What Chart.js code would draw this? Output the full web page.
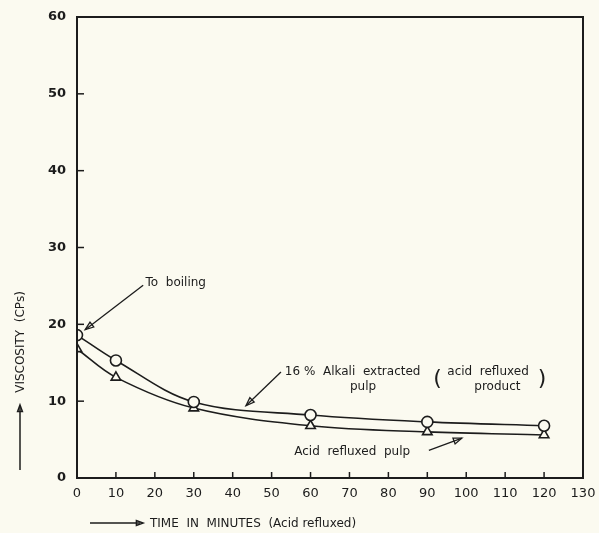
<!DOCTYPE html>
<html>
<head>
<meta charset="utf-8">
<script src="https://cdn.jsdelivr.net/npm/chart.js@4.4.1/dist/chart.umd.min.js"></script>
<style>
  html, body { margin: 0; padding: 0; background: #fbfaf0; }
  #wrap { width: 599px; height: 533px; }
</style>
</head>
<body>
<div id="wrap"><canvas id="viscChart" width="599" height="533"></canvas></div>
<script>
// time (minutes, acid refluxed)
var minutes = [0, 10, 30, 60, 90, 120];
// 16% alkali extracted pulp (acid refluxed product) - circles
var alkaliPulp = [18.6, 15.3, 9.9, 8.2, 7.3, 6.8];
// acid refluxed pulp - triangles
var acidPulp = [16.8, 13.1, 9.1, 6.8, 6.0, 5.6];

var xTicks = [0, 10, 20, 30, 40, 50, 60, 70, 80, 90, 100, 110, 120, 130];
var yTicks = [0, 10, 20, 30, 40, 50, 60];

var ink = '#1c1c1c';

// text notes placed in data units
var notes = [
  { text: 'To  boiling', x: 17.6, y: 25.4, align: 'left' },
  { text: '16 %  Alkali  extracted', x: 53.4, y: 13.8, align: 'left' },
  { text: 'pulp', x: 73.5, y: 11.8, align: 'center' },
  { text: 'acid  refluxed', x: 105.6, y: 13.8, align: 'center' },
  { text: 'product', x: 108, y: 11.8, align: 'center' },
  { text: 'Acid  refluxed  pulp', x: 70.7, y: 3.4, align: 'center' }
];
// arrows [fromX, fromY, toX, toY] in data units
var arrows = [
  [17.0, 25.1, 2.1, 19.3],
  [52.4, 13.8, 43.4, 9.4],
  [90.4, 3.6, 98.9, 5.2]
];

function toXY(points) {
  return points.map(function (v, k) { return { x: minutes[k], y: v }; });
}

function arrowHead(ctx, x1, y1, x2, y2, size) {
  var a = Math.atan2(y2 - y1, x2 - x1);
  ctx.beginPath();
  ctx.moveTo(x2, y2);
  ctx.lineTo(x2 - size * Math.cos(a - 0.35), y2 - size * Math.sin(a - 0.35));
  ctx.lineTo(x2 - size * Math.cos(a + 0.35), y2 - size * Math.sin(a + 0.35));
  ctx.closePath();
  ctx.stroke();
}

var decorPlugin = {
  id: 'decor',
  afterDraw: function (chart) {
    var ctx = chart.ctx;
    var area = chart.chartArea;
    var xs = chart.scales.x, ys = chart.scales.y;
    ctx.save();
    ctx.strokeStyle = ink;
    ctx.fillStyle = ink;
    ctx.lineWidth = 2;
    // frame
    ctx.strokeRect(area.left, area.top, area.right - area.left, area.bottom - area.top);
    // inner tick marks
    ctx.lineWidth = 1.5;
    yTicks.forEach(function (v) {
      if (v === 0 || v === 60) return;
      var py = ys.getPixelForValue(v);
      ctx.beginPath(); ctx.moveTo(area.left, py); ctx.lineTo(area.left + 7, py); ctx.stroke();
    });
    xTicks.forEach(function (v) {
      if (v === 0 || v === 130) return;
      var px = xs.getPixelForValue(v);
      ctx.beginPath(); ctx.moveTo(px, area.bottom); ctx.lineTo(px, area.bottom - 6); ctx.stroke();
    });

    // notes
    ctx.font = '12px "DejaVu Sans", sans-serif';
    ctx.textBaseline = 'middle';
    notes.forEach(function (n) {
      ctx.textAlign = n.align;
      ctx.fillText(n.text, xs.getPixelForValue(n.x), ys.getPixelForValue(n.y));
    });
    // big parentheses around "acid refluxed product"
    ctx.font = '22px "DejaVu Sans", sans-serif';
    ctx.textAlign = 'center';
    ctx.fillText('(', xs.getPixelForValue(92.6), ys.getPixelForValue(12.9));
    ctx.fillText(')', xs.getPixelForValue(119.5), ys.getPixelForValue(12.9));

    // arrows
    ctx.lineWidth = 1.3;
    arrows.forEach(function (a) {
      var x1 = xs.getPixelForValue(a[0]), y1 = ys.getPixelForValue(a[1]);
      var x2 = xs.getPixelForValue(a[2]), y2 = ys.getPixelForValue(a[3]);
      ctx.beginPath(); ctx.moveTo(x1, y1); ctx.lineTo(x2, y2); ctx.stroke();
      arrowHead(ctx, x1, y1, x2, y2, 9);
    });

    // axis titles with arrows
    ctx.font = '12px "DejaVu Sans", sans-serif';
    ctx.lineWidth = 1.5;
    // y title
    ctx.save();
    ctx.translate(21, 342);
    ctx.rotate(-Math.PI / 2);
    ctx.textAlign = 'center';
    ctx.fillText('VISCOSITY  (CPs)', 0, 0);
    ctx.restore();
    ctx.beginPath(); ctx.moveTo(20, 470); ctx.lineTo(20, 407); ctx.stroke();
    arrowHead(ctx, 20, 470, 20, 405, 7);
    // x title
    ctx.beginPath(); ctx.moveTo(90, 523); ctx.lineTo(140, 523); ctx.stroke();
    arrowHead(ctx, 90, 523, 143, 523, 7);
    ctx.textAlign = 'left';
    ctx.fillText('TIME  IN  MINUTES  (Acid refluxed)', 150, 524);
    ctx.restore();
  }
};

var chart = new Chart(document.getElementById('viscChart'), {
  type: 'line',
  data: {
    datasets: [{
      label: '16% Alkali extracted pulp',
      data: toXY(alkaliPulp),
      borderColor: ink,
      borderWidth: 1.6,
      pointStyle: 'circle',
      pointRadius: 5.5,
      pointBackgroundColor: '#fbfaf0',
      pointBorderColor: ink,
      pointBorderWidth: 1.6,
      tension: 0.35,
      fill: false
    }, {
      label: 'Acid refluxed pulp',
      data: toXY(acidPulp),
      borderColor: ink,
      borderWidth: 1.6,
      pointStyle: 'triangle',
      pointRadius: 5.5,
      pointBackgroundColor: '#fbfaf0',
      pointBorderColor: ink,
      pointBorderWidth: 1.6,
      tension: 0.35,
      fill: false
    }]
  },
  options: {
    responsive: false,
    animation: false,
    devicePixelRatio: 1,
    layout: { padding: { left: 0, right: 16, top: 17, bottom: 0 } },
    plugins: {
      legend: { display: false },
      tooltip: { enabled: false }
    },
    scales: {
      x: {
        type: 'linear',
        min: 0, max: 130,
        afterFit: function (s) { s.height = 55; },
        afterBuildTicks: function (s) { s.ticks = xTicks.map(function (v) { return { value: v }; }); },
        grid: { display: false },
        border: { display: false },
        ticks: { color: ink, padding: 0, font: { family: 'DejaVu Sans', size: 13 } }
      },
      y: {
        min: 0, max: 60,
        afterFit: function (s) { s.width = 77; },
        afterBuildTicks: function (s) { s.ticks = yTicks.map(function (v) { return { value: v }; }); },
        grid: { display: false },
        border: { display: false },
        ticks: { color: ink, padding: 3, font: { family: 'DejaVu Sans', size: 13, weight: 'bold' } }
      }
    }
  },
  plugins: [decorPlugin]
});
</script>
</body>
</html>
